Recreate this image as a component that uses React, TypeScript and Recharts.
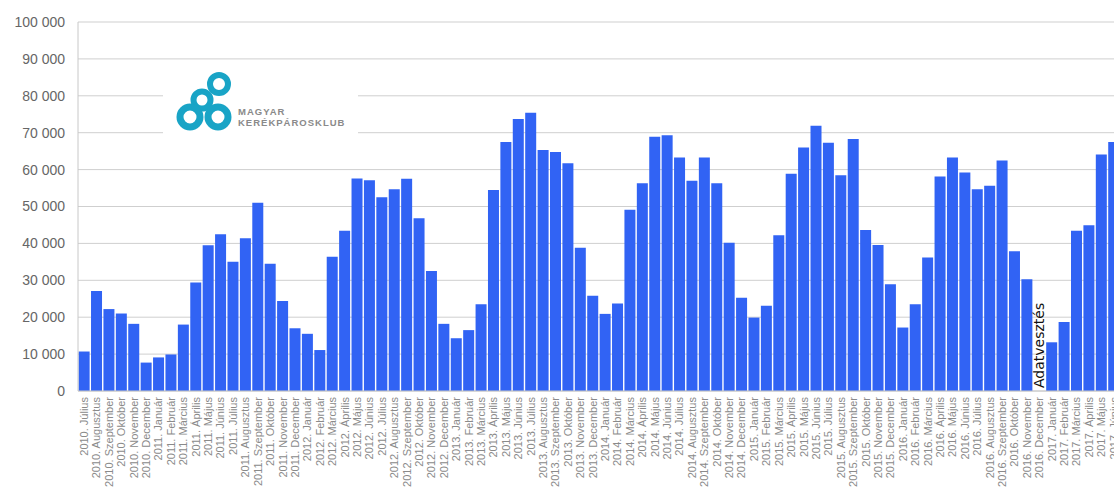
import { BarChart, Bar, XAxis, YAxis, CartesianGrid, ReferenceLine } from "recharts";

const years = [2010, 2011, 2012, 2013, 2014, 2015, 2016, 2017];
const monthNames = [
  "Január", "Február", "Március", "Április", "Május", "Június",
  "Július", "Augusztus", "Szeptember", "Október", "November", "December",
];

// monthly values from 2010. Július to 2017. Június, 2016. December is missing
const riders = [
  10700, 27100, 22200, 21000, 18200, 7700,
  9100, 9900, 18000, 29400, 39500, 42500, 35000, 41400, 51000, 34500, 24400, 17000,
  15500, 11100, 36400, 43400, 57600, 57100, 52500, 54700, 57500, 46800, 32500, 18200,
  14300, 16500, 23500, 54500, 67500, 73700, 75400, 65300, 64800, 61700, 38800, 25800,
  20900, 23700, 49100, 56300, 68900, 69300, 63300, 57000, 63300, 56300, 40200, 25300,
  19900, 23100, 42200, 58900, 66000, 71900, 67300, 58500, 68300, 43600, 39600, 28900,
  17200, 23500, 36200, 58100, 63300, 59200, 54700, 55600, 62500, 37900, 30300, null,
  13200, 18700, 43400, 44900, 64100, 67500,
];

const yTicks = [0, 10000, 20000, 30000, 40000, 50000, 60000, 70000, 80000, 90000, 100000];

const labels: string[] = [];
years.forEach((y) => {
  monthNames.forEach((m, i) => {
    if (y === 2010 && i < 6) return;
    if (labels.length < riders.length) labels.push(`${y}. ${m}`);
  });
});

const data = labels.map((month, i) => ({ month, value: riders[i] }));

const fmt = (v: number) => String(v).replace(/\B(?=(\d{3})+(?!\d))/g, " ");

function MonthTick({ x, y, payload }: any) {
  return (
    <text
      x={x}
      y={y}
      dy="0.35em"
      transform={`rotate(-90, ${x}, ${y})`}
      textAnchor="end"
      fontSize={11}
      fill="#8a8a8a"
      fontFamily="Liberation Sans, Arial, sans-serif"
    >
      {payload.value}
    </text>
  );
}

function LossLabel({ viewBox }: any) {
  if (!viewBox) return null;
  const x = viewBox.x + 5;
  const y = viewBox.y + viewBox.height - 3;
  return (
    <text
      x={x}
      y={y}
      transform={`rotate(-90, ${x}, ${y})`}
      fontSize={14}
      fill="#111"
      fontFamily="DejaVu Sans, sans-serif"
    >
      Adatvesztés
    </text>
  );
}

function Logo() {
  return (
    <svg width={1114} height={489} style={{ position: "absolute", left: 0, top: 0, pointerEvents: "none" }}>
      <rect x={163} y={66} width={195} height={74} fill="#fff" />
      <circle cx={202} cy={100} r={8.5} fill="none" stroke="#19a4c6" strokeWidth={6} />
      <circle cx={219} cy={84} r={9} fill="#fff" stroke="#19a4c6" strokeWidth={6} />
      <circle cx={190} cy={117} r={10} fill="#fff" stroke="#19a4c6" strokeWidth={7} />
      <circle cx={218} cy={117} r={10} fill="#fff" stroke="#19a4c6" strokeWidth={7} />
      <text x={238} y={115} fontSize={9.5} letterSpacing={1} fill="#8a8a8a" fontWeight={600}
        fontFamily="Liberation Sans, Arial, sans-serif">MAGYAR</text>
      <text x={238} y={126} fontSize={9.5} letterSpacing={1} fill="#8a8a8a" fontWeight={600}
        fontFamily="Liberation Sans, Arial, sans-serif">KERÉKPÁROSKLUB</text>
    </svg>
  );
}

export default function App() {
  return (
    <div style={{ position: "fixed", left: 0, top: 0, width: 1114, height: 489, overflow: "hidden", background: "#fff" }}>
      <BarChart
        width={1120}
        height={511}
        data={data}
        margin={{ top: 22, right: 0, bottom: 0, left: 0 }}
        barCategoryGap="5%"
      >
        <CartesianGrid vertical={false} stroke="#cfcfcf" />
        <YAxis
          width={78}
          domain={[0, 100000]}
          ticks={yTicks}
          tickFormatter={fmt}
          tickLine={false}
          tickMargin={7}
          axisLine={{ stroke: "#c8c8c8" }}
          tick={{ fontSize: 14, fill: "#666", fontFamily: "Liberation Sans, Arial, sans-serif" }}
        />
        <XAxis
          dataKey="month"
          height={120}
          interval={0}
          tickLine={false}
          tickSize={0}
          tickMargin={6}
          axisLine={{ stroke: "#c8c8c8" }}
          tick={<MonthTick />}
        />
        <Bar dataKey="value" fill="#3163f4" isAnimationActive={false} />
        <ReferenceLine x="2016. December" stroke="none" label={<LossLabel />} />
      </BarChart>
      <Logo />
    </div>
  );
}
